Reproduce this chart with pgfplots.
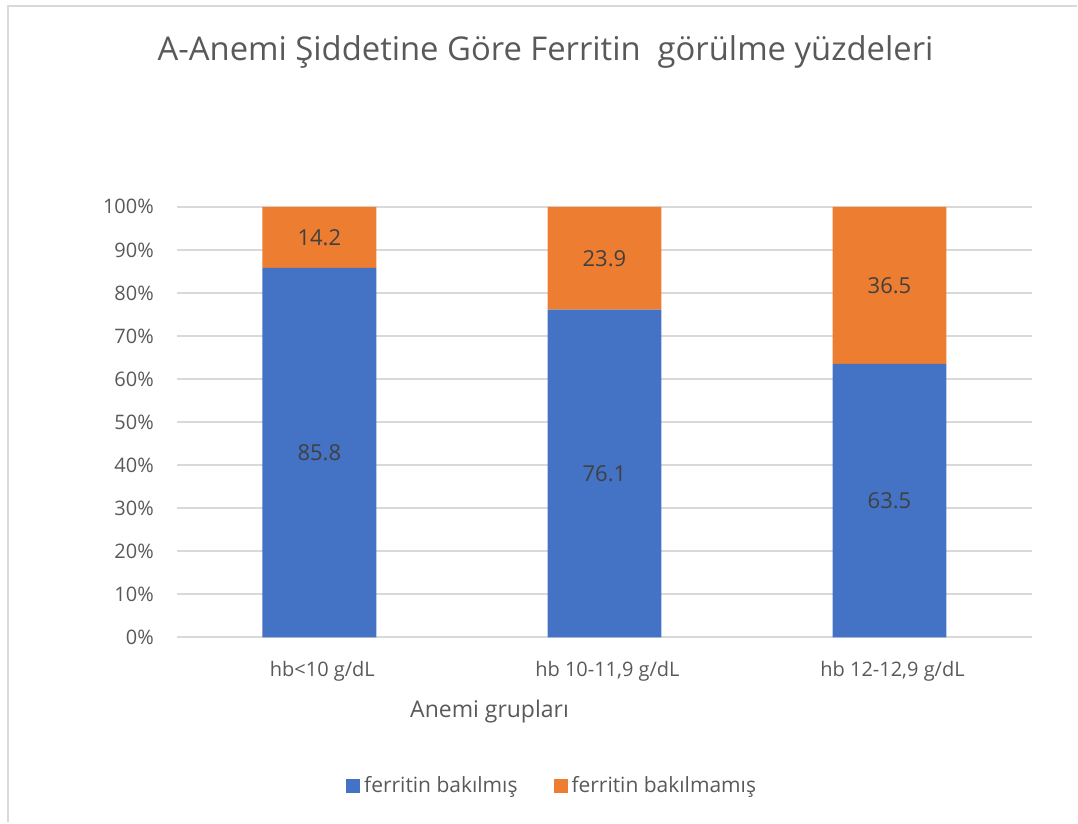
\documentclass[border=0pt]{standalone}
\usepackage{pgfplots}
\pgfplotsset{compat=1.18}
\usepackage{pgfplotstable}
\usepackage{fontspec}
\setmainfont{Open Sans}
\definecolor{cblue}{HTML}{4472C4}
\definecolor{corange}{HTML}{ED7D31}
\definecolor{txt}{HTML}{595959}
\definecolor{gridc}{HTML}{D9D9D9}
\definecolor{lab}{HTML}{404040}
\pgfplotstableread{
x a b
0 85.8 14.2
1 76.1 23.9
2 63.5 36.5
}\data
\begin{document}
\begin{tikzpicture}[font=\fontsize{10}{12}\selectfont, text=txt]
\path (0,0) rectangle (539pt,-411.5pt);
\draw[gridc, line width=1pt] (4pt,-411.5pt) -- (4pt,-3pt) -- (539pt,-3pt);
\node at (273pt,-26pt) {\fontsize{16.4}{20}\selectfont A-Anemi Şiddetine Göre Ferritin\ \ görülme yüzdeleri};
\node at (245pt,-356pt) {\fontsize{11.5}{14}\selectfont Anemi grupları};
\begin{axis}[
  at={(88.5pt,-319pt)}, anchor=south west,
  scale only axis, width=428pt, height=215.5pt,
  ybar stacked, bar width=57pt,
  xmin=-0.5, xmax=2.5, ymin=0, ymax=100,
  xtick={0,1,2},
  xticklabels={{hb<10 g/dL},{hb 10-11,9 g/dL},{hb 12-12,9 g/dL}},
  ytick={0,10,...,100},
  yticklabel={\pgfmathprintnumber{\tick}\%},
  /pgf/number format/assume math mode=true,
  ymajorgrids, grid style={gridc, line width=1pt},
  axis line style={draw=none},
  major tick length=0,
  tick label style={text=txt, font=\fontsize{10}{12}\selectfont},
  yticklabel style={xshift=-8pt},
  xticklabel style={yshift=-8.5pt, xshift=1.5pt},
  legend style={at={(0.44,-0.346)}, anchor=center, draw=none, fill=none,
    legend columns=2, text=txt, font=\fontsize{10.5}{12}\selectfont,
    /tikz/every even column/.append style={column sep=16pt}},
  legend image code/.code={\fill[#1] (-3.5pt,-3.5pt) rectangle (3.5pt,3.5pt);},
  every node near coord/.append style={anchor=center, text=lab, font=\fontsize{11}{13}\selectfont},
]
\addplot[fill=cblue, draw=none, nodes near coords, point meta=explicit symbolic]
  table[x=x, y=a, meta=a]{\data};
\addplot[fill=corange, draw=none, nodes near coords, point meta=explicit symbolic]
  table[x=x, y=b, meta=b]{\data};
\legend{ferritin bakılmış, ferritin bakılmamış}
\end{axis}
\end{tikzpicture}
\end{document}
